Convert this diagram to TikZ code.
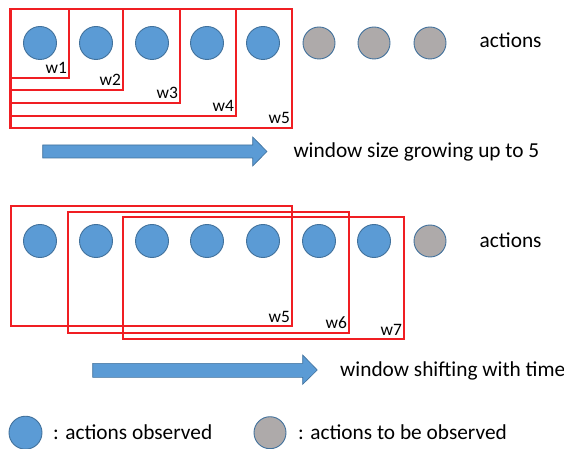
\documentclass[tikz,border=0pt]{standalone}
\usepackage{fontspec}
\setmainfont{Carlito}
\definecolor{obsblue}{HTML}{5B9BD5}
\definecolor{edgeblue}{HTML}{41719C}
\definecolor{futgray}{HTML}{AEAAAA}
\definecolor{winred}{HTML}{F01E23}
\tikzset{
  obs/.style={circle, fill=obsblue, draw=edgeblue, line width=0.9bp, minimum size=33bp, inner sep=0pt},
  fut/.style={circle, fill=futgray, draw=edgeblue, line width=0.9bp, minimum size=32bp, inner sep=0pt},
  winbox/.style={draw=winred, line width=2.2bp},
  wlab/.style={anchor=base east, inner sep=0pt, font=\fontsize{17.5}{20}\selectfont},
  txt/.style={anchor=base west, inner sep=0pt, font=\fontsize{21.4}{24}\selectfont},
  bigarrow/.style={fill=obsblue, draw=edgeblue, line width=0.6bp, line join=miter}
}
\newcommand\winrect[6]{%
  \draw[winbox] (#1,#2) rectangle (#3,#4);
  \node[wlab] (#6) at (#3-1.8,#4-4) {#5};}
\begin{document}
\begin{tikzpicture}[x=1bp,y=-1bp]
\useasboundingbox (0,0) rectangle (564,449);
% ---------- top row ----------
\foreach \i/\x in {1/40,2/96,3/152,4/207,5/263}{
  \node[obs] (t\i) at (\x,43) {};
}
\foreach \i/\x in {6/319,7/374,8/430}{
  \node[fut] (t\i) at (\x,43) {};
}
\node[txt] (tact) at (479.5,47.5) {actions};
\winrect{10.5}{9}{69}{78}{w1}{lw1}
\winrect{10.5}{9}{123}{90}{w2}{lw2}
\winrect{10.5}{9}{180}{103}{w3}{lw3}
\winrect{10.5}{9}{236}{116}{w4}{lw4}
\winrect{10.5}{9}{292}{128}{w5}{lw5}
% arrow 1
\draw[bigarrow] (42.7,145) -- (252.7,145) -- (252.7,137) -- (267,151.5) -- (252.7,166) -- (252.7,158) -- (42.7,158) -- cycle;
\node[txt] (grow) at (293.3,158) {window size growing up to 5};
% ---------- bottom row ----------
\foreach \i/\x in {1/40,2/96,3/152,4/207,5/263,6/319,7/374}{
  \node[obs] (b\i) at (\x,241) {};
}
\node[fut] (b8) at (430,241) {};
\node[txt] (bact) at (479.5,247.5) {actions};
\winrect{10.7}{206}{292}{326}{w5}{lbw5}
\winrect{68}{211.7}{349}{332.7}{w6}{lbw6}
\winrect{123}{217}{404}{339}{w7}{lbw7}
% arrow 2
\draw[bigarrow] (92.7,363.3) -- (302.7,363.3) -- (302.7,355) -- (317.3,370) -- (302.7,384.3) -- (302.7,377.3) -- (92.7,377.3) -- cycle;
\node[txt] (shift) at (340,376.5) {window shifting with time};
% ---------- legend ----------
\node[obs] (lobs) at (25.5,432.7) {};
\node[txt] (lobst) at (53,439) {: actions observed};
\node[fut] (lfut) at (270,432.7) {};
\node[txt] (lfutt) at (298,439) {: actions to be observed};
\end{tikzpicture}
\end{document}
